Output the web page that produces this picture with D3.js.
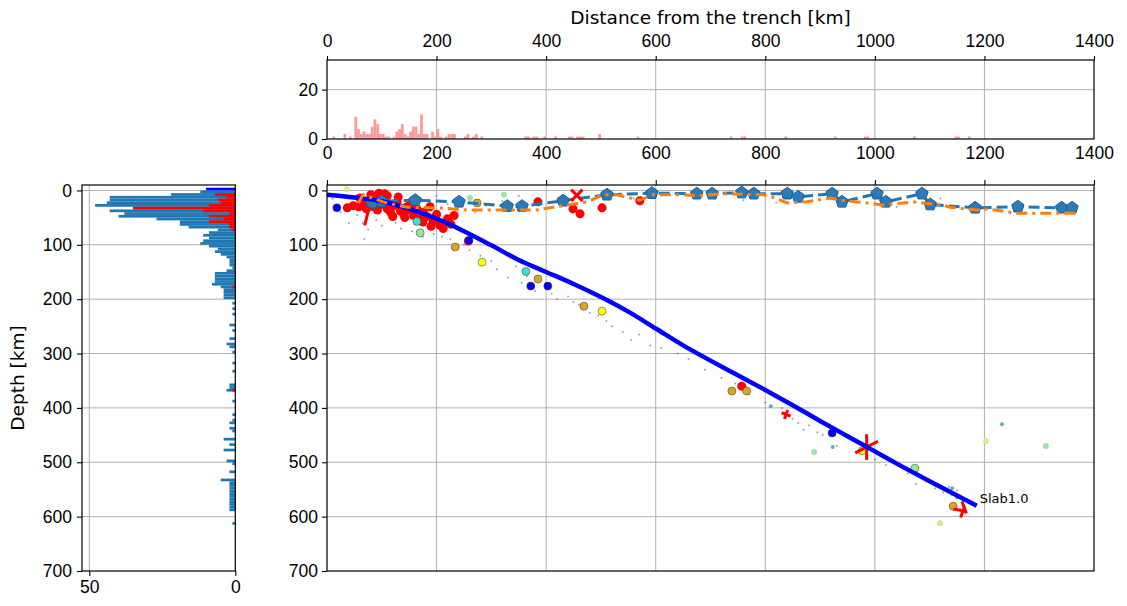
<!DOCTYPE html>
<html>
<head>
<meta charset="utf-8">
<script src="https://cdn.jsdelivr.net/npm/d3@7"></script>
<style>
  body { margin: 0; background: #fff; }
  svg { font-family: "DejaVu Sans", sans-serif; }
  .tick text { font-size: 17.5px; fill: #000; }
  .tick line { stroke: #000; stroke-width: 1.1; }
  .domain { display: none; }
</style>
</head>
<body>
<svg id="chart" width="1127" height="606"></svg>
<script>
// ---- data ----
const distTicks  = [0, 200, 400, 600, 800, 1000, 1200, 1400]
const depthTicks = [0, 100, 200, 300, 400, 500, 600, 700]
const countTicks = [0, 20]
const sideTicks  = [50, 0]

// distance histogram (5 km bins, start of bin)
const distBin   = [10, 30, 40, 50, 55, 60, 65, 70, 75, 80, 85, 90, 95, 100, 105, 110, 120, 125, 130, 135, 140, 145, 150, 155, 160, 165, 170, 175, 180, 190, 195, 200, 205, 215, 220, 225, 230, 250, 255, 265, 270, 280, 360, 365, 375, 380, 395, 415, 440, 445, 455, 460, 465, 495, 565, 735, 755, 760, 835, 925, 980, 985, 1070, 1145, 1150, 1170]
const distCount = [1, 2, 1, 9, 4, 2, 3, 2, 2, 5, 8, 6, 2, 2, 1, 1, 1, 3, 4, 6, 2, 1, 3, 5, 5, 2, 10, 2, 2, 3, 1, 4, 1, 1, 2, 2, 2, 1, 2, 1, 2, 1, 1, 1, 1, 1, 1, 1, 1, 1, 1, 1, 1, 2, 1, 1, 1, 1, 1, 1, 1, 1, 1, 1, 1, 1]

// depth histograms (5 km bins, start of bin)
const depthBin   = [0, 5, 10, 15, 20, 25, 30, 35, 40, 45, 50, 55, 60, 65, 70, 75, 80, 85, 90, 95, 100, 105, 110, 115, 120, 125, 130, 135, 140, 145, 150, 155, 160, 165, 170, 175, 180, 185, 190, 195, 205, 215, 225, 245, 255, 270, 280, 285, 295, 315, 330, 355, 360, 365, 385, 410, 420, 425, 435, 440, 455, 465, 475, 495, 500, 515, 530, 535, 540, 545, 550, 555, 560, 565, 570, 575, 580, 585, 610]
const depthCount = [12, 22, 43, 43, 44, 48, 35, 43, 38, 40, 27, 19, 19, 16, 6, 9, 11, 9, 11, 12, 9, 6, 7, 5, 3, 2, 2, 2, 1, 3, 7, 7, 7, 7, 8, 5, 4, 4, 4, 4, 1, 1, 1, 2, 1, 2, 3, 2, 1, 1, 1, 2, 2, 3, 1, 1, 1, 2, 2, 1, 4, 2, 4, 3, 1, 2, 5, 2, 2, 2, 2, 2, 2, 2, 2, 2, 2, 2, 1]
const redBin     = [5, 10, 15, 20, 25, 30, 35, 40, 45, 50, 55, 60, 65, 70, 175, 365]
const redCount   = [7, 3, 6, 5, 9, 35, 11, 2, 9, 4, 9, 2, 2, 1, 1, 1]
const blueBin    = [-5]
const blueCount  = [10]

// Slab1.0 profile
const slabDist  = [0, 50, 100, 150, 200, 250, 300, 350, 400, 450, 500, 550, 600, 650, 700, 750, 800, 850, 900, 950, 1000, 1050, 1100, 1150, 1186]
const slabDepth = [8, 13, 20, 34, 52, 75, 101, 128, 150, 172, 196, 223, 254, 285, 313, 340, 367, 395, 424, 452, 480, 508, 535, 561, 580]

// shallow profiles
const pentDist  = [82, 100, 161, 241, 329, 356, 431, 511, 593, 675, 703, 757, 779, 840, 860, 922, 940, 1004, 1020, 1086, 1101, 1183, 1261, 1341, 1360]
const pentDepth = [23, 20, 18, 21, 29, 29, 19, 8, 5, 6, 6, 4, 6, 6, 12, 6, 21, 6, 21, 6, 26, 32, 30, 32, 32]
const orangeDist  = [57, 66, 102, 146, 201, 256, 329, 383, 412, 475, 504, 529, 571, 595, 650, 675, 723, 796, 812, 840, 876, 918, 936, 986, 1015, 1070, 1124, 1137, 1186, 1205, 1259, 1289, 1369]
const orangeDepth = [23, 8, 21, 31, 32, 36, 36, 36, 31, 21, 8, 8, 18, 8, 8, 10, 6, 8, 12, 23, 21, 14, 18, 23, 27, 21, 27, 31, 36, 34, 42, 42, 42]

// events
const redDist  = [37, 48, 58, 66, 72, 80, 85, 92, 98, 104, 110, 116, 122, 128, 134, 140, 146, 152, 158, 164, 170, 176, 182, 188, 194, 200, 206, 212, 220, 232, 258, 385, 449, 462, 502, 571, 80, 95, 110, 130, 60, 175, 190, 150, 88, 105, 757, 120, 142, 226]
const redDepth = [32, 28, 30, 24, 34, 20, 30, 36, 26, 18, 34, 40, 28, 22, 38, 44, 30, 26, 46, 34, 52, 40, 48, 30, 56, 44, 64, 70, 52, 46, 93, 21, 34, 43, 32, 19, 8, 5, 10, 12, 14, 58, 66, 36, 12, 6, 360, 48, 50, 62]
const evDist   = [234, 274, 385, 469, 739, 766, 1143, 283, 502, 977, 18, 259, 372, 403, 922, 363, 164, 170, 1073]
const evDepth  = [104, 23, 163, 213, 369, 369, 581, 132, 222, 479, 32, 92, 176, 176, 446, 149, 57, 78, 511]
const evGroup  = ['gold', 'gold', 'gold', 'gold', 'gold', 'gold', 'gold', 'yellow', 'yellow', 'yellow', 'blue', 'blue', 'blue', 'blue', 'blue', 'turq', 'turq', 'green', 'green']
const paleDist  = [36, 261, 323, 889, 1119, 1203, 1312, 810, 1232, 923, 1150, 1141]
const paleDepth = [-2, 14, 8, 481, 612, 461, 470, 397, 430, 472, 565, 548]
const paleGroup = ['lime', 'mint', 'mint', 'mint', 'lime', 'lime', 'mint', 'teal', 'teal', 'teal', 'teal', 'teal']

// red mechanism sticks: centre, angle (deg), size
const stickDist  = [456, 456, 985, 985, 838, 838, 1155, 1163, 1160, 73]
const stickDepth = [9, 9, 472, 472, 412, 412, 588, 583, 592, 47]
const stickAngle = [45, -45, 90, -27, 20, 110, 10, 70, 110, -76]
const stickSize  = [1.0, 1.0, 1.6, 1.6, 0.6, 0.6, 0.8, 0.8, 0.7, 1.2]

// small seismicity
const dotDist  = [10, 25, 40, 55, 65, 80, 90, 100, 115, 125, 135, 145, 155, 160, 175, 185, 195, 200, 210, 220, 225, 240, 250, 260, 270, 280, 290, 300, 310, 320, 330, 345, 350, 355, 365, 380, 395, 410, 420, 440, 450, 460, 480, 495, 510, 520, 540, 555, 570, 590, 610, 640, 660, 690, 720, 745, 770, 800, 830, 850, 860, 870, 880, 895, 905, 930, 960, 1000, 1020, 1060, 1075, 1095, 1110, 1125, 1135, 1140, 1150, 1160, 560, 610, 700, 760, 820, 880, 960, 1040, 1120, 1260, 75, 40, 68]
const dotDepth = [15, 40, 12, 45, 60, 5, 55, 65, 15, 60, 70, 20, 75, 15, 85, 20, 80, 10, 85, 25, 90, 30, 100, 110, 40, 120, 28, 130, 145, 20, 160, 140, 10, 170, 158, 185, 150, 190, 200, 195, 205, 210, 225, 230, 240, 250, 260, 275, 265, 285, 290, 300, 310, 330, 345, 355, 375, 390, 400, 420, 428, 440, 432, 445, 450, 470, 460, 495, 505, 520, 540, 535, 548, 555, 545, 560, 552, 570, 15, 8, 12, 18, 22, 10, 20, 30, 15, 28, 72, 60, 90]

// ---- style ----
const groupColor = { gold: '#daa520', yellow: '#ffff00', blue: '#0000ff', turq: '#40e0d0', green: '#90ee90' }
const paleColor  = { lime: '#d2ec8e', mint: '#9fe2aa', teal: '#5fb0b4' }
const gridColor  = '#b0b0b0'
const fontSize   = 18.5

const box   = { x0: 327, x1: 1094, y0: 185, y1: 571 }   // main section
const hbox  = { y0: 60, y1: 139 }                         // distance histogram
const sbox  = { x0: 82, x1: 235.3 }                       // depth histogram

const xKm    = d3.scaleLinear().domain([0, 1400]).range([box.x0, box.x1])
const yDepth = d3.scaleLinear().domain([-10, 700]).range([box.y0, box.y1])
const yHist  = d3.scaleLinear().domain([0, 32]).range([hbox.y1, hbox.y0])
const xCount = d3.scaleLinear().domain([52.5, 0]).range([sbox.x0, sbox.x1])

const svg = d3.select('#chart')

// ---- grids ----
const grid = svg.append('g').attr('stroke', gridColor).attr('stroke-width', 1)
grid.selectAll('line.gx').data(distTicks.slice(1, -1)).enter().append('line')
    .attr('x1', d => xKm(d)).attr('x2', d => xKm(d))
    .attr('y1', hbox.y0).attr('y2', hbox.y1)
grid.selectAll('line.gy').data([20]).enter().append('line')
    .attr('x1', box.x0).attr('x2', box.x1)
    .attr('y1', d => yHist(d)).attr('y2', d => yHist(d))
grid.selectAll('line.mx').data(distTicks.slice(1, -1)).enter().append('line')
    .attr('x1', d => xKm(d)).attr('x2', d => xKm(d))
    .attr('y1', box.y0).attr('y2', box.y1)
grid.selectAll('line.my').data(depthTicks.slice(0, -1)).enter().append('line')
    .attr('x1', box.x0).attr('x2', box.x1)
    .attr('y1', d => yDepth(d)).attr('y2', d => yDepth(d))
grid.selectAll('line.sy').data(depthTicks.slice(0, -1)).enter().append('line')
    .attr('x1', sbox.x0).attr('x2', sbox.x1)
    .attr('y1', d => yDepth(d)).attr('y2', d => yDepth(d))
grid.selectAll('line.sx').data([50]).enter().append('line')
    .attr('x1', d => xCount(d)).attr('x2', d => xCount(d))
    .attr('y1', box.y0).attr('y2', box.y1)

// ---- distance histogram ----
svg.append('g').selectAll('rect')
  .data(distBin)
  .enter()
  .append('rect')
    .attr('x', d => xKm(d))
    .attr('width', d => xKm(d + 5) - xKm(d))
    .attr('y', (d, i) => yHist(distCount[i]))
    .attr('height', (d, i) => yHist(0) - yHist(distCount[i]))
    .attr('fill', '#ff9999')

// ---- depth histograms ----
const sideBars = (bins, counts, color) => {
  svg.append('g').selectAll('rect')
    .data(bins)
    .enter()
    .append('rect')
      .attr('x', (d, i) => xCount(counts[i]))
      .attr('width', (d, i) => xCount(0) - xCount(counts[i]))
      .attr('y', d => yDepth(d))
      .attr('height', d => yDepth(d + 5) - yDepth(d))
      .attr('fill', color)
}
sideBars(depthBin, depthCount, '#1f77b4')
sideBars(redBin, redCount, '#ff0000')
sideBars(blueBin, blueCount, '#0000ff')

// ---- main section ----
const plot = svg.append('g')

plot.selectAll('circle.dot')
  .data(dotDist)
  .enter()
  .append('circle')
    .attr('cx', d => xKm(d))
    .attr('cy', (d, i) => yDepth(dotDepth[i]))
    .attr('r', 1)
    .attr('fill', '#5a5aa8')
    .attr('fill-opacity', 0.6)

plot.selectAll('circle.pale')
  .data(paleDist)
  .enter()
  .append('circle')
    .attr('cx', d => xKm(d))
    .attr('cy', (d, i) => yDepth(paleDepth[i]))
    .attr('r', (d, i) => paleGroup[i] === 'teal' ? 2 : 3)
    .attr('fill', (d, i) => paleColor[paleGroup[i]])

plot.selectAll('circle.red')
  .data(redDist)
  .enter()
  .append('circle')
    .attr('cx', d => xKm(d))
    .attr('cy', (d, i) => yDepth(redDepth[i]))
    .attr('r', 4.5)
    .attr('fill', '#ff0000')

plot.selectAll('circle.ev')
  .data(evDist)
  .enter()
  .append('circle')
    .attr('cx', d => xKm(d))
    .attr('cy', (d, i) => yDepth(evDepth[i]))
    .attr('r', 4)
    .attr('fill', (d, i) => groupColor[evGroup[i]])
    .attr('stroke', '#333')
    .attr('stroke-width', 0.5)

// blue dashed profile with pentagons
const line = (xs, ys, curve) => d3.line()
  .curve(curve || d3.curveLinear)
  .x((d, i) => xKm(xs[i]))
  .y((d, i) => yDepth(ys[i]))(xs)

plot.append('path')
  .attr('d', line(pentDist, pentDepth))
  .attr('fill', 'none')
  .attr('stroke', '#1f77b4')
  .attr('stroke-width', 3)
  .attr('stroke-dasharray', '11,5')

const pentagon = r => d3.range(5).map(k => {
  const a = -Math.PI / 2 + k * 2 * Math.PI / 5
  return [r * Math.cos(a), r * Math.sin(a)]
})
plot.selectAll('polygon.pent')
  .data(pentDist)
  .enter()
  .append('polygon')
    .attr('points', pentagon(6.5).join(' '))
    .attr('transform', (d, i) => `translate(${xKm(d)},${yDepth(pentDepth[i])})`)
    .attr('fill', '#2b7bba')
    .attr('stroke', '#1f5f8f')
    .attr('stroke-width', 1)

// red sticks
plot.selectAll('line.stick')
  .data(stickDist)
  .enter()
  .append('line')
    .each(function (d, i) {
      const cx = xKm(d), cy = yDepth(stickDepth[i])
      const a = stickAngle[i] * Math.PI / 180
      const half = stickSize[i] * 8
      d3.select(this)
        .attr('x1', cx - half * Math.cos(a)).attr('y1', cy - half * Math.sin(a))
        .attr('x2', cx + half * Math.cos(a)).attr('y2', cy + half * Math.sin(a))
    })
    .attr('stroke', '#ff0000')
    .attr('stroke-width', 3)

// slab
plot.append('path')
  .attr('d', line(slabDist, slabDepth, d3.curveMonotoneX))
  .attr('fill', 'none')
  .attr('stroke', '#0000ff')
  .attr('stroke-width', 4.5)

plot.append('text')
  .attr('x', xKm(slabDist[slabDist.length - 1]) + 3)
  .attr('y', yDepth(slabDepth[slabDepth.length - 1]) - 3)
  .attr('font-size', 13)
  .text('Slab1.0')

// orange dash-dot profile
plot.append('path')
  .attr('d', line(orangeDist, orangeDepth))
  .attr('fill', 'none')
  .attr('stroke', '#ff7f0e')
  .attr('stroke-width', 3)
  .attr('stroke-dasharray', '11,5,3,5')

// ---- frames ----
const frame = (x0, y0, x1, y1) => svg.append('rect')
  .attr('x', x0).attr('y', y0)
  .attr('width', x1 - x0).attr('height', y1 - y0)
  .attr('fill', 'none').attr('stroke', '#000').attr('stroke-width', 1.2)
frame(box.x0, hbox.y0, box.x1, hbox.y1)
frame(box.x0, box.y0, box.x1, box.y1)
frame(sbox.x0, box.y0, sbox.x1, box.y1)

// ---- axes ----
svg.append('g').attr('transform', `translate(0,${hbox.y0})`)
  .call(d3.axisTop(xKm).tickValues(distTicks).tickSize(4).tickPadding(9).tickFormat(d3.format('d')))
svg.append('g').attr('transform', `translate(0,${hbox.y1})`)
  .call(d3.axisBottom(xKm).tickValues(distTicks).tickSize(0).tickPadding(8).tickFormat(d3.format('d')))
svg.append('g').attr('transform', `translate(${box.x0},0)`)
  .call(d3.axisLeft(yHist).tickValues(countTicks).tickSize(5).tickPadding(4))
svg.append('g').attr('transform', `translate(0,${box.y0})`)
  .call(d3.axisTop(xKm).tickValues(distTicks).tickSize(5).tickFormat(''))
svg.append('g').attr('transform', `translate(${box.x0},0)`)
  .call(d3.axisLeft(yDepth).tickValues(depthTicks).tickSize(5).tickPadding(4))
svg.append('g').attr('transform', `translate(${sbox.x0},0)`)
  .call(d3.axisLeft(yDepth).tickValues(depthTicks).tickSize(5).tickPadding(5))
svg.append('g').attr('transform', `translate(0,${box.y1})`)
  .call(d3.axisBottom(xCount).tickValues(sideTicks).tickSize(5).tickPadding(5))

svg.append('text')
  .attr('x', (box.x0 + box.x1) / 2)
  .attr('y', 24)
  .attr('text-anchor', 'middle')
  .attr('font-size', fontSize)
  .text('Distance from the trench [km]')

svg.append('text')
  .attr('transform', `translate(24,${(box.y0 + box.y1) / 2}) rotate(-90)`)
  .attr('text-anchor', 'middle')
  .attr('font-size', fontSize)
  .text('Depth [km]')
</script>
</body>
</html>
